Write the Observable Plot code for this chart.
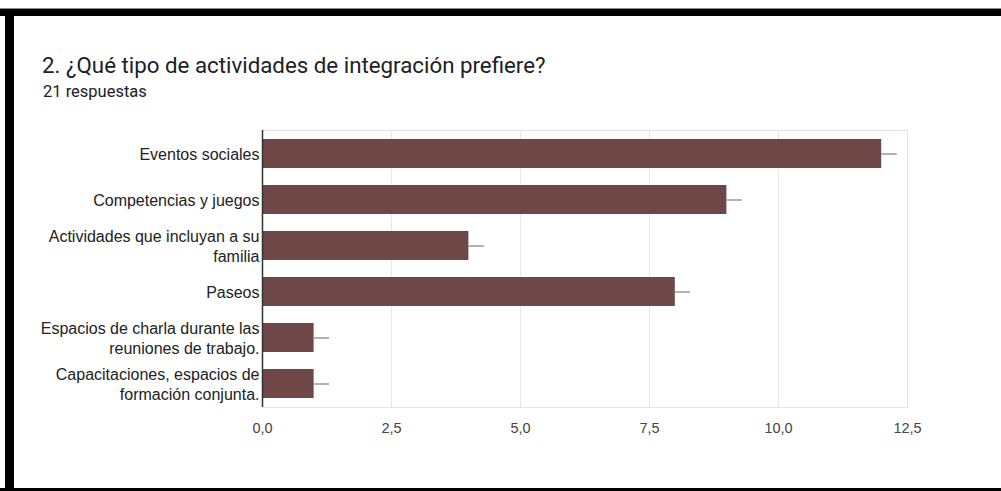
<!DOCTYPE html>
<html>
<head>
<meta charset="utf-8">
<script src="https://cdn.jsdelivr.net/npm/d3@7"></script>
<script src="https://cdn.jsdelivr.net/npm/@observablehq/plot@0.6"></script>
<style>
  html, body { margin: 0; padding: 0; background: #fff; }
  #page { position: relative; width: 1001px; height: 491px; overflow: hidden; background: #fff; }
  .bar { position: absolute; background: #000; }
  #title { position: absolute; left: 42px; top: 52px; font-family: Roboto, "Noto Sans", sans-serif; font-size: 22.3px; color: #202124; white-space: nowrap; }
  #subtitle { position: absolute; left: 43px; top: 82px; font-family: Roboto, "Noto Sans", sans-serif; font-size: 16.5px; color: #202124; white-space: nowrap; }
  #chart { position: absolute; left: 0; top: 100px; }
</style>
</head>
<body>
<div id="page">
  <div class="bar" style="left:0;top:8px;width:1001px;height:1px;background:#888"></div>
  <div class="bar" style="left:0;top:9px;width:1001px;height:7px"></div>
  <div class="bar" style="left:5px;top:9px;width:9px;height:482px"></div>
  <div class="bar" style="left:0;top:488px;width:1001px;height:3px"></div>
  <div id="title">2. ¿Qué tipo de actividades de integración prefiere?</div>
  <div id="subtitle">21 respuestas</div>
  <div id="chart"></div>
</div>
<script>
const categories = [
  "Eventos sociales",
  "Competencias y juegos",
  "Actividades que incluyan a su familia",
  "Paseos",
  "Espacios de charla durante las reuniones de trabajo.",
  "Capacitaciones, espacios de formación conjunta."
];
const values = [12, 9, 4, 8, 1, 1];
const tickLabels = [
  "Eventos sociales",
  "Competencias y juegos",
  "Actividades que incluyan a su\nfamilia",
  "Paseos",
  "Espacios de charla durante las\nreuniones de trabajo.",
  "Capacitaciones, espacios de\nformación conjunta."
];
const xTicks = [0, 2.5, 5, 7.5, 10, 12.5];
const whisker = 0.3;

const data = categories.map((c, i) => ({category: c, value: values[i]}));
const labelOf = new Map(categories.map((c, i) => [c, tickLabels[i]]));
const fmt = d => d3.format(".1f")(d).replace(".", ",");

const chart = Plot.plot({
  width: 1001,
  height: 360,
  marginLeft: 262,
  marginRight: 94,
  marginTop: 30,
  marginBottom: 53,
  style: {fontFamily: "'Liberation Sans', Arial, sans-serif", background: "transparent"},
  x: {domain: [0, 12.5], ticks: xTicks, tickFormat: fmt},
  y: {domain: categories, paddingInner: 0.38, paddingOuter: 0.19},
  marks: [
    Plot.gridX(xTicks, {stroke: "#e6e6e6", strokeOpacity: 1}),
    Plot.frame({stroke: "#e3e3e3"}),
    Plot.barX(data, {y: "category", x: "value", fill: "#6f4747"}),
    Plot.ruleY(data, {y: "category", x1: "value", x2: d => d.value + whisker, stroke: "#9a9a9a", strokeWidth: 1.5}),
    Plot.ruleX([0], {stroke: "#333", strokeWidth: 1.5}),
    Plot.axisX(xTicks, {tickSize: 0, tickPadding: 15, tickFormat: fmt, fontSize: 14.5, fill: "#444", label: null}),
    Plot.axisY({tickSize: 0, tickPadding: 3, tickFormat: d => labelOf.get(d), fontSize: 16, fill: "#222", lineHeight: 1.25, label: null})
  ]
});
document.getElementById("chart").appendChild(chart);
</script>
</body>
</html>
